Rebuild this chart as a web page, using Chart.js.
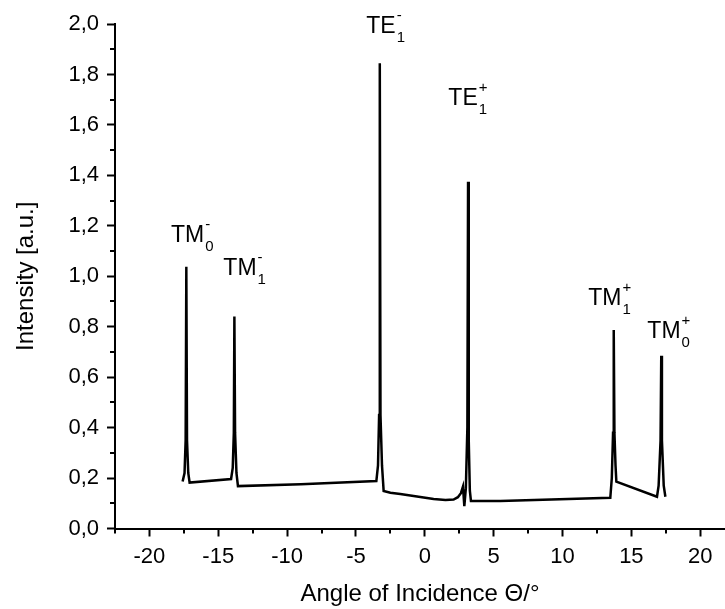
<!DOCTYPE html>
<html>
<head>
<meta charset="utf-8">
<script src="https://cdn.jsdelivr.net/npm/chart.js@4.4.1/dist/chart.umd.min.js"></script>
<style>
  html, body { margin: 0; padding: 0; background: #fff; }
  canvas { display: block; }
</style>
</head>
<body>
<canvas id="myChart" width="725" height="609"></canvas>
<script>
const angles = [
  -17.59, -17.45, -17.37, -17.32, -17.27, -17.18, -17.08,
  -14.07, -13.95, -13.87, -13.83, -13.78, -13.68, -13.57,
  -9.0, -3.52, -3.40, -3.32, -3.27, -3.22, -3.11, -2.99,
  -2.5, -1.78, 0.64, 1.5, 2.09, 2.4, 2.62, 2.77, 2.87, 2.98, 3.09, 3.14, 3.19, 3.27, 3.35,
  5.48, 13.47, 13.58, 13.67, 13.72, 13.77, 13.85, 13.91,
  16.86, 16.98, 17.12, 17.17, 17.22, 17.35, 17.47
];
const intensity = [
  0.186, 0.22, 0.35, 1.038, 0.35, 0.22, 0.182,
  0.196, 0.24, 0.38, 0.840, 0.38, 0.22, 0.168,
  0.175, 0.188, 0.25, 0.45, 1.844, 0.45, 0.25, 0.149,
  0.142, 0.137, 0.117, 0.113, 0.115, 0.124, 0.14, 0.166, 0.089, 0.16, 0.40, 1.375, 0.35, 0.15, 0.109,
  0.109, 0.122, 0.20, 0.38, 0.787, 0.38, 0.25, 0.186,
  0.126, 0.17, 0.35, 0.685, 0.35, 0.17, 0.126
];

// axis ticks
const xMajor = [-20, -15, -10, -5, 0, 5, 10, 15, 20];
const xMinor = [-22.5, -17.5, -12.5, -7.5, -2.5, 2.5, 7.5, 12.5, 17.5];
const yMajor = [0, 0.2, 0.4, 0.6, 0.8, 1.0, 1.2, 1.4, 1.6, 1.8, 2.0];
const yMinor = [0.1, 0.3, 0.5, 0.7, 0.9, 1.1, 1.3, 1.5, 1.7, 1.9];

// mode labels: base text, superscript, subscript, anchor (angle, intensity)
const modeBase = ["TM", "TM", "TE", "TE", "TM", "TM"];
const modeSup = ["-", "-", "-", "+", "+", "+"];
const modeSub = ["0", "1", "1", "1", "1", "0"];
const modeX = [-18.43, -14.63, -4.25, 1.71, 11.87, 16.16];
const modeY = [1.136, 1.005, 1.964, 1.679, 0.886, 0.755];

const points = angles.map((a, i) => ({ x: a, y: intensity[i] }));

const FONT = "'Liberation Sans', Arial, sans-serif";

const isMajor = (list, v) => list.some(m => Math.abs(m - v) < 1e-6);

const minorTicks = {
  id: "minorTicks",
  afterDraw(chart) {
    const c = chart.ctx;
    const xs = chart.scales.x, ys = chart.scales.y;
    c.save();
    c.strokeStyle = "#000";
    c.lineWidth = 2;
    c.beginPath();
    xMinor.forEach(v => {
      const px = Math.round(xs.getPixelForValue(v));
      c.moveTo(px, ys.bottom);
      c.lineTo(px, ys.bottom + 5);
    });
    yMinor.forEach(v => {
      const py = Math.round(ys.getPixelForValue(v));
      c.moveTo(xs.left, py);
      c.lineTo(xs.left - 5, py);
    });
    c.stroke();
    c.restore();
  }
};

const modeLabels = {
  id: "modeLabels",
  afterDatasetsDraw(chart) {
    const c = chart.ctx;
    const xs = chart.scales.x, ys = chart.scales.y;
    c.save();
    c.fillStyle = "#000";
    c.textBaseline = "alphabetic";
    c.textAlign = "left";
    modeBase.forEach((t, i) => {
      const px = xs.getPixelForValue(modeX[i]);
      const py = ys.getPixelForValue(modeY[i]);
      c.font = "23px " + FONT;
      c.fillText(t, px, py);
      const w = c.measureText(t).width;
      c.font = "15px " + FONT;
      c.fillText(modeSup[i], px + w + 1, py - 13);
      c.fillText(modeSub[i], px + w + 1, py + 9);
    });
    c.restore();
  }
};

const ctx = document.getElementById("myChart");

new Chart(ctx, {
  type: "line",
  data: {
    datasets: [{
      data: points,
      borderColor: "#000",
      borderWidth: 2.5,
      pointRadius: 0,
      tension: 0,
      fill: false
    }]
  },
  options: {
    responsive: false,
    animation: false,
    devicePixelRatio: 1,
    layout: { padding: { top: 24, right: 0, left: 0, bottom: 0 } },
    plugins: {
      legend: { display: false },
      tooltip: { enabled: false }
    },
    scales: {
      x: {
        type: "linear",
        min: -22.5,
        max: 21.8,
        afterBuildTicks: s => { s.ticks = xMajor.concat(xMinor).sort((a, b) => a - b).map(v => ({ value: v })); },
        afterFit: s => { s.height = 80.5; },
        border: { color: "#000", width: 2 },
        grid: {
          drawOnChartArea: false,
          tickLength: 8,
          tickWidth: 2,
          tickColor: c => isMajor(xMajor, c.tick.value) ? "#000" : "rgba(0,0,0,0)"
        },
        ticks: {
          color: "#000",
          padding: 7,
          maxRotation: 0,
          autoSkip: false,
          font: { family: FONT, size: 22 },
          callback: v => isMajor(xMajor, v) ? String(v) : ""
        },
        title: {
          display: true,
          text: "Angle of Incidence Θ/°",
          color: "#000",
          font: { family: FONT, size: 24 },
          padding: { top: 0, bottom: 0 }
        }
      },
      y: {
        type: "linear",
        min: 0,
        max: 2,
        afterBuildTicks: s => { s.ticks = yMajor.concat(yMinor).sort((a, b) => a - b).map(v => ({ value: v })); },
        afterFit: s => { s.width = 115; },
        border: { color: "#000", width: 2 },
        grid: {
          drawOnChartArea: false,
          tickLength: 8,
          tickWidth: 2,
          tickColor: c => isMajor(yMajor, c.tick.value) ? "#000" : "rgba(0,0,0,0)"
        },
        ticks: {
          color: "#000",
          padding: 8,
          autoSkip: false,
          font: { family: FONT, size: 22 },
          callback: v => isMajor(yMajor, v) ? v.toFixed(1).replace(".", ",") : ""
        },
        title: {
          display: true,
          text: "Intensity [a.u.]",
          color: "#000",
          font: { family: FONT, size: 24 },
          padding: { top: 12, bottom: 0 }
        }
      }
    }
  },
  plugins: [minorTicks, modeLabels]
});
</script>
</body>
</html>
